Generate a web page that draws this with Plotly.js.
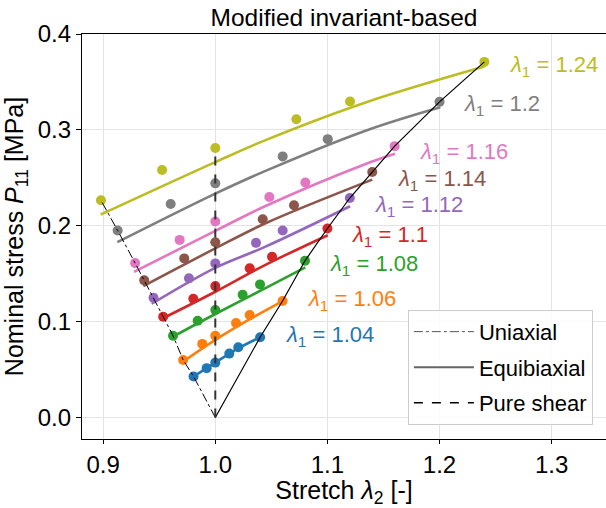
<!DOCTYPE html>
<html>
<head>
<meta charset="utf-8">
<script src="https://cdn.plot.ly/plotly-3.0.1.min.js"></script>
<style>html,body{margin:0;padding:0;background:#fff;}#chart{width:606px;height:508px;}</style>
</head>
<body>
<div id="chart"></div>
<script>
// lambda_1 values for each series
const lambda1 = [1.04, 1.06, 1.08, 1.1, 1.12, 1.14, 1.16, 1.2, 1.24];
const lambdaLabels = ["1.04", "1.06", "1.08", "1.1", "1.12", "1.14", "1.16", "1.2", "1.24"];
const colors = ["#1f77b4", "#ff7f0e", "#2ca02c", "#d62728", "#9467bd", "#8c564b", "#e377c2", "#7f7f7f", "#bcbd22"];

// Experimental points (stretch lambda_2, nominal stress P11)
const expX = [
  [0.9806, 0.9923, 1.0, 1.0125, 1.0205, 1.04],
  [0.9713, 0.9884, 1.0, 1.0185, 1.0307, 1.06],
  [0.9623, 0.9843, 1.0, 1.0244, 1.0399, 1.08],
  [0.9535, 0.9804, 1.0, 1.0307, 1.0506, 1.10],
  [0.9449, 0.9765, 1.0, 1.0363, 1.0601, 1.12],
  [0.9366, 0.9723, 1.0, 1.0423, 1.0702, 1.14],
  [0.9285, 0.9682, 1.0, 1.0482, 1.0803, 1.16],
  [0.9129, 0.9602, 1.0, 1.0601, 1.1003, 1.20],
  [0.8980, 0.9525, 1.0, 1.0723, 1.1202, 1.24]
];
const expY = [
  [0.0427, 0.0514, 0.0572, 0.0666, 0.0733, 0.0837],
  [0.0600, 0.0767, 0.0853, 0.0985, 0.1069, 0.1214],
  [0.0853, 0.1009, 0.1121, 0.1280, 0.1388, 0.1634],
  [0.1051, 0.1238, 0.1370, 0.1555, 0.1676, 0.1971],
  [0.1249, 0.1451, 0.1607, 0.1821, 0.1950, 0.2289],
  [0.1430, 0.1659, 0.1828, 0.2068, 0.2213, 0.2560],
  [0.1610, 0.1852, 0.2044, 0.2300, 0.2450, 0.2830],
  [0.1950, 0.2227, 0.2442, 0.2723, 0.2903, 0.3292],
  [0.2265, 0.2581, 0.2810, 0.3111, 0.3296, 0.3709]
];

// Model curves
const modX = [
  [0.9806, 1.0, 1.02, 1.04],
  [0.9700, 1.0, 1.03, 1.0601],
  [0.9596, 1.0, 1.0443, 1.0803],
  [0.9516, 1.0, 1.0443, 1.1003],
  [0.9433, 1.0, 1.0443, 1.1202],
  [0.9358, 1.0, 1.0443, 1.1400],
  [0.9275, 1.0, 1.0443, 1.1347, 1.1603],
  [0.9126, 1.0, 1.0443, 1.1347, 1.2007],
  [0.8978, 1.0, 1.0443, 1.1347, 1.2400]
];
const modY = [
  [0.0427, 0.0572, 0.0718, 0.0837],
  [0.0572, 0.0809, 0.1020, 0.1214],
  [0.0826, 0.1079, 0.1347, 0.1565],
  [0.1024, 0.1311, 0.1589, 0.1901],
  [0.1186, 0.1561, 0.1779, 0.2203],
  [0.1370, 0.1763, 0.2023, 0.2481],
  [0.1519, 0.1946, 0.2203, 0.2647, 0.2751],
  [0.1828, 0.2335, 0.2570, 0.2994, 0.3236],
  [0.2117, 0.2664, 0.2890, 0.3288, 0.3660]
];

// Label anchor positions
const labelX = [1.0613, 1.0810, 1.1006, 1.1202, 1.1407, 1.1612, 1.1808, 1.2201, 1.2611];
const labelY = [0.0850, 0.1225, 0.1589, 0.1891, 0.2203, 0.2473, 0.2754, 0.3264, 0.3670];

// Loading-mode reference lines
const uniX = [1.0, 0.9806, 0.9713, 0.9623, 0.9535, 0.9449, 0.9366, 0.9285, 0.9129, 0.8980];
const uniY = [0.0, 0.0427, 0.0600, 0.0853, 0.1051, 0.1249, 0.1430, 0.1610, 0.1950, 0.2265];
const equiX = [1.0, 1.04, 1.06, 1.08, 1.10, 1.12, 1.14, 1.16, 1.20, 1.24];
const equiY = [0.0, 0.0837, 0.1214, 0.1634, 0.1971, 0.2289, 0.2560, 0.2830, 0.3292, 0.3709];
const shearX = [1.0, 1.0];
const shearY = [0.0, 0.2810];

const FONT = "Liberation Sans, Arial, sans-serif";
const traces = [];
for (let i = 0; i < lambda1.length; i++) {
  traces.push({x: modX[i], y: modY[i], mode: "lines", line: {color: colors[i], width: 2.6, shape: "spline"}, showlegend: false, hoverinfo: "skip"});
}
for (let i = 0; i < lambda1.length; i++) {
  traces.push({x: expX[i], y: expY[i], mode: "markers", marker: {color: colors[i], size: 10}, showlegend: false});
}
traces.push({x: uniX, y: uniY, mode: "lines", line: {color: "#000", width: 1, dash: "dashdot"}, showlegend: false});
traces.push({x: equiX, y: equiY, mode: "lines", line: {color: "#000", width: 1.2}, showlegend: false});
traces.push({x: shearX, y: shearY, mode: "lines", line: {color: "#333", width: 2, dash: "dash"}, showlegend: false});
// legend entries
traces.push({x: [null], y: [null], mode: "lines", name: "Uniaxial", legendgroup: "a", line: {color: "#555", width: 1, dash: "dashdot"}});
traces.push({x: [null], y: [null], mode: "lines", name: "Equibiaxial", legendgroup: "b", line: {color: "#666", width: 2}});
traces.push({x: [null], y: [null], mode: "lines", name: "Pure shear", legendgroup: "c", line: {color: "#000", width: 1.5, dash: "dash"}});

const annotations = lambda1.map((l, i) => ({
  x: labelX[i], y: labelY[i], xref: "x", yref: "y", xanchor: "left", yanchor: "middle",
  text: "<i>λ</i><sub>1</sub> = " + lambdaLabels[i], showarrow: false,
  font: {family: FONT, size: 22, color: colors[i]}
}));

const layout = {
  width: 606, height: 508,
  margin: {l: 82, r: 0, t: 34, b: 69},
  paper_bgcolor: "#fff", plot_bgcolor: "#fff",
  font: {family: FONT, color: "#000"},
  title: {text: "Modified invariant-based", x: 0.5, xref: "paper", y: 0.965, yanchor: "middle", font: {family: FONT, size: 24.5, color: "#000"}},
  xaxis: {
    range: [0.8811, 1.3485], tickvals: [0.9, 1.0, 1.1, 1.2, 1.3], ticktext: ["0.9", "1.0", "1.1", "1.2", "1.3"],
    showgrid: true, gridcolor: "#e3e3e3", gridwidth: 1, zeroline: false,
    showline: true, linecolor: "#000", linewidth: 1.2, mirror: true,
    ticks: "outside", ticklen: 4, tickcolor: "#000", tickfont: {family: FONT, size: 24},
    title: {text: "Stretch <i>λ</i><sub>2</sub> [-]", font: {family: FONT, size: 25}, standoff: 10}
  },
  yaxis: {
    range: [-0.0225, 0.4], tickvals: [0.0, 0.1, 0.2, 0.3, 0.4], ticktext: ["0.0", "0.1", "0.2", "0.3", "0.4"],
    showgrid: true, gridcolor: "#e3e3e3", gridwidth: 1, zeroline: false,
    showline: true, linecolor: "#000", linewidth: 1.2, mirror: true,
    ticks: "outside", ticklen: 5, tickcolor: "#000", tickfont: {family: FONT, size: 24},
    title: {text: "Nominal stress <i>P</i><sub>11</sub> [MPa]", font: {family: FONT, size: 25}, standoff: 8}
  },
  legend: {
    x: 0.975, y: 0.035, xanchor: "right", yanchor: "bottom",
    bgcolor: "rgba(255,255,255,0.85)", bordercolor: "#cccccc", borderwidth: 1,
    itemwidth: 60, tracegroupgap: 4,
    font: {family: FONT, size: 22, color: "#000"}
  },
  annotations: annotations
};

Plotly.newPlot("chart", traces, layout, {displayModeBar: false, staticPlot: true});
</script>
</body>
</html>
